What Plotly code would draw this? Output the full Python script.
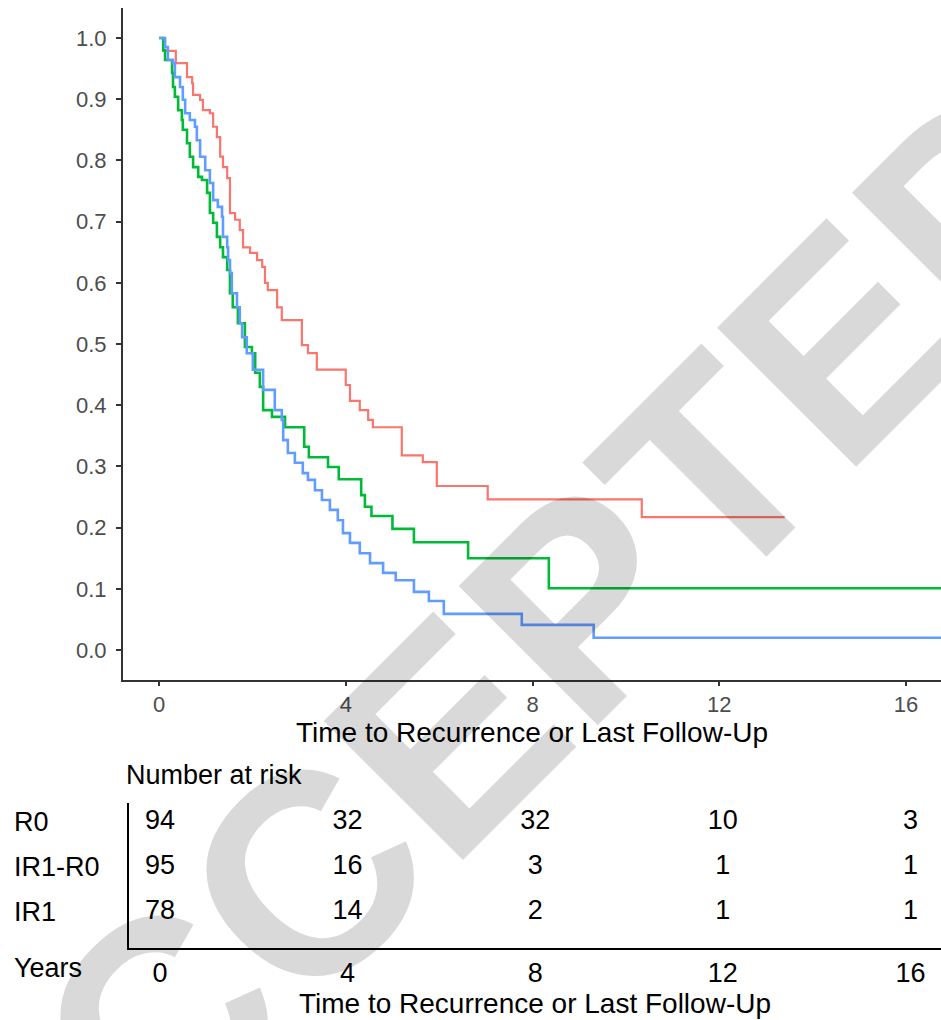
import plotly.graph_objects as go

# ---------------- data ----------------
groups = ["R0", "IR1-R0", "IR1"]
colors = ["#F8766D", "#00BA38", "#619CFF"]

red_t = [0, 0.09, 0.36, 0.60, 0.71, 0.73, 0.88, 0.94, 1.09, 1.16, 1.24, 1.31, 1.37, 1.46, 1.52, 1.63,
         1.73, 1.80, 1.95, 2.10, 2.21, 2.27, 2.33, 2.53, 2.63, 3.06, 3.19, 3.38, 4.00, 4.09, 4.30, 4.48,
         4.58, 5.20, 5.65, 5.95, 7.04, 10.34, 13.40]
red_s = [1.0, 0.979, 0.959, 0.936, 0.926, 0.907, 0.899, 0.882, 0.877, 0.855, 0.838, 0.806, 0.789, 0.771,
         0.714, 0.703, 0.686, 0.658, 0.649, 0.637, 0.626, 0.600, 0.588, 0.560, 0.539, 0.498, 0.485, 0.458,
         0.433, 0.407, 0.392, 0.376, 0.364, 0.318, 0.307, 0.268, 0.246, 0.217, 0.217]

green_t = [0, 0.09, 0.13, 0.28, 0.30, 0.34, 0.41, 0.49, 0.51, 0.60, 0.66, 0.73, 0.84, 0.92, 1.03, 1.09,
           1.16, 1.24, 1.31, 1.37, 1.46, 1.52, 1.58, 1.69, 1.84, 1.99, 2.06, 2.16, 2.23, 2.42, 2.70, 3.11,
           3.21, 3.62, 3.85, 4.33, 4.41, 4.55, 5.00, 5.46, 6.62, 8.35, 17.0]
green_s = [1.0, 0.980, 0.964, 0.943, 0.920, 0.904, 0.882, 0.866, 0.850, 0.828, 0.806, 0.789, 0.773, 0.768,
           0.747, 0.714, 0.698, 0.675, 0.658, 0.642, 0.621, 0.583, 0.560, 0.534, 0.495, 0.485, 0.453, 0.430,
           0.392, 0.381, 0.364, 0.332, 0.315, 0.299, 0.279, 0.253, 0.234, 0.219, 0.198, 0.176, 0.150, 0.101,
           0.101]

blue_t = [0, 0.13, 0.19, 0.30, 0.34, 0.45, 0.51, 0.56, 0.66, 0.77, 0.81, 0.88, 0.99, 1.09, 1.16, 1.26,
          1.35, 1.37, 1.46, 1.48, 1.52, 1.56, 1.67, 1.73, 1.78, 1.88, 2.01, 2.23, 2.48, 2.63, 2.66, 2.76,
          2.91, 3.08, 3.19, 3.34, 3.49, 3.66, 3.83, 3.94, 4.09, 4.30, 4.52, 4.80, 5.07, 5.46, 5.78, 6.10,
          7.77, 9.31, 17.0]
blue_s = [1.0, 0.985, 0.964, 0.959, 0.936, 0.920, 0.899, 0.877, 0.866, 0.855, 0.833, 0.806, 0.784, 0.763,
          0.735, 0.724, 0.708, 0.675, 0.658, 0.637, 0.616, 0.583, 0.560, 0.534, 0.511, 0.485, 0.458, 0.425,
          0.392, 0.376, 0.343, 0.322, 0.306, 0.289, 0.278, 0.261, 0.245, 0.229, 0.212, 0.191, 0.175, 0.158,
          0.142, 0.126, 0.114, 0.095, 0.080, 0.059, 0.041, 0.020, 0.020]

years = [0, 4, 8, 12, 16]
risk_R0 = [94, 32, 32, 10, 3]
risk_IR1R0 = [95, 16, 3, 1, 1]
risk_IR1 = [78, 14, 2, 1, 1]

y_ticks = [0.0, 0.1, 0.2, 0.3, 0.4, 0.5, 0.6, 0.7, 0.8, 0.9, 1.0]
x_title = "Time to Recurrence or Last Follow-Up"

# ---------------- figure ----------------
W, H = 941, 1020
FONT = "Liberation Sans, Arial, Helvetica, sans-serif"

fig = go.Figure()

curves = [(red_t, red_s), (green_t, green_s), (blue_t, blue_s)]
widths = [2.2, 2.6, 2.6]
for name, col, lw, (t, s) in zip(groups, colors, widths, curves):
    fig.add_trace(go.Scatter(x=t, y=s, mode="lines", name=name,
                             line=dict(color=col, width=lw, shape="hv"),
                             xaxis="x", yaxis="y", showlegend=False, cliponaxis=True))

# risk table rows (row index 3,2,1 top to bottom)
risk_rows = [risk_R0, risk_IR1R0, risk_IR1]
row_pos = [3, 2, 1]
for vals, rp in zip(risk_rows, row_pos):
    fig.add_trace(go.Scatter(x=years, y=[rp] * len(years), mode="text",
                             text=[str(v) for v in vals],
                             textfont=dict(family=FONT, size=27, color="black"),
                             textposition="middle center",
                             xaxis="x2", yaxis="y2", showlegend=False, hoverinfo="skip"))

px = 46.69  # pixels per year
main_left, main_right = 123, 941
tab_left = 129

fig.update_layout(
    width=W, height=H,
    margin=dict(l=0, r=0, t=0, b=0),
    paper_bgcolor="white", plot_bgcolor="white",
    font=dict(family=FONT, color="black"),
    xaxis=dict(domain=[main_left / W, 1], anchor="y",
               range=[-(159 - main_left) / px, -(159 - main_left) / px + (main_right - main_left) / px],
               tickvals=years, ticks="outside", ticklen=4, tickwidth=1.5, tickcolor="#333333",
               showline=True, linecolor="#333333", linewidth=2, showgrid=False, zeroline=False,
               tickfont=dict(size=22, color="#4D4D4D"),
               title=dict(text=x_title, font=dict(size=28, color="black"), standoff=6)),
    yaxis=dict(domain=[1 - 680 / H, 1 - 8 / H], anchor="x",
               range=[-0.049, 1.049], tickvals=y_ticks, tickformat=".1f",
               ticks="outside", ticklen=5, tickwidth=1.5, tickcolor="#333333",
               ticklabelstandoff=5,
               showline=True, linecolor="#333333", linewidth=2, showgrid=False, zeroline=False,
               tickfont=dict(size=22, color="#4D4D4D")),
    xaxis2=dict(domain=[tab_left / W, 1], anchor="y2",
                range=[-(160 - tab_left) / 46.9, -(160 - tab_left) / 46.9 + (W - tab_left) / 46.9],
                tickvals=years, ticks="",
                showline=True, linecolor="black", linewidth=1.5, showgrid=False, zeroline=False,
                tickfont=dict(size=27, color="black"),
                title=dict(text=x_title, font=dict(size=28, color="black"), standoff=0)),
    yaxis2=dict(domain=[1 - 948 / H, 1 - 803 / H], anchor="x2",
                range=[0.2, 3.422], showticklabels=False, ticks="",
                showline=True, linecolor="black", linewidth=1.5, showgrid=False, zeroline=False),
)

# table labels
for name, rp in zip(groups, row_pos):
    fig.add_annotation(text=name, xref="paper", yref="y2", x=12 / W, y=rp,
                       xanchor="left", yanchor="middle", showarrow=False,
                       font=dict(family=FONT, size=27, color="black"))
fig.add_annotation(text="Years", xref="paper", yref="paper", x=12 / W, y=1 - 968 / H,
                   xanchor="left", yanchor="middle", showarrow=False,
                   font=dict(family=FONT, size=27, color="black"))
fig.add_annotation(text="Number at risk", xref="paper", yref="paper", x=124 / W, y=1 - 775 / H,
                   xanchor="left", yanchor="middle", showarrow=False,
                   font=dict(family=FONT, size=27, color="black"))

# watermark
fig.add_annotation(text="<b>ACCEPTED</b>", xref="paper", yref="paper", x=497 / W, y=1 - 686 / H,
                   xanchor="center", yanchor="middle", showarrow=False, textangle=-45,
                   font=dict(family=FONT, size=286, color="rgba(0,0,0,0.15)"))

fig.write_html("out.html", config={"displayModeBar": False},
               post_script="document.body.style.margin='0';document.body.style.overflow='hidden';")
